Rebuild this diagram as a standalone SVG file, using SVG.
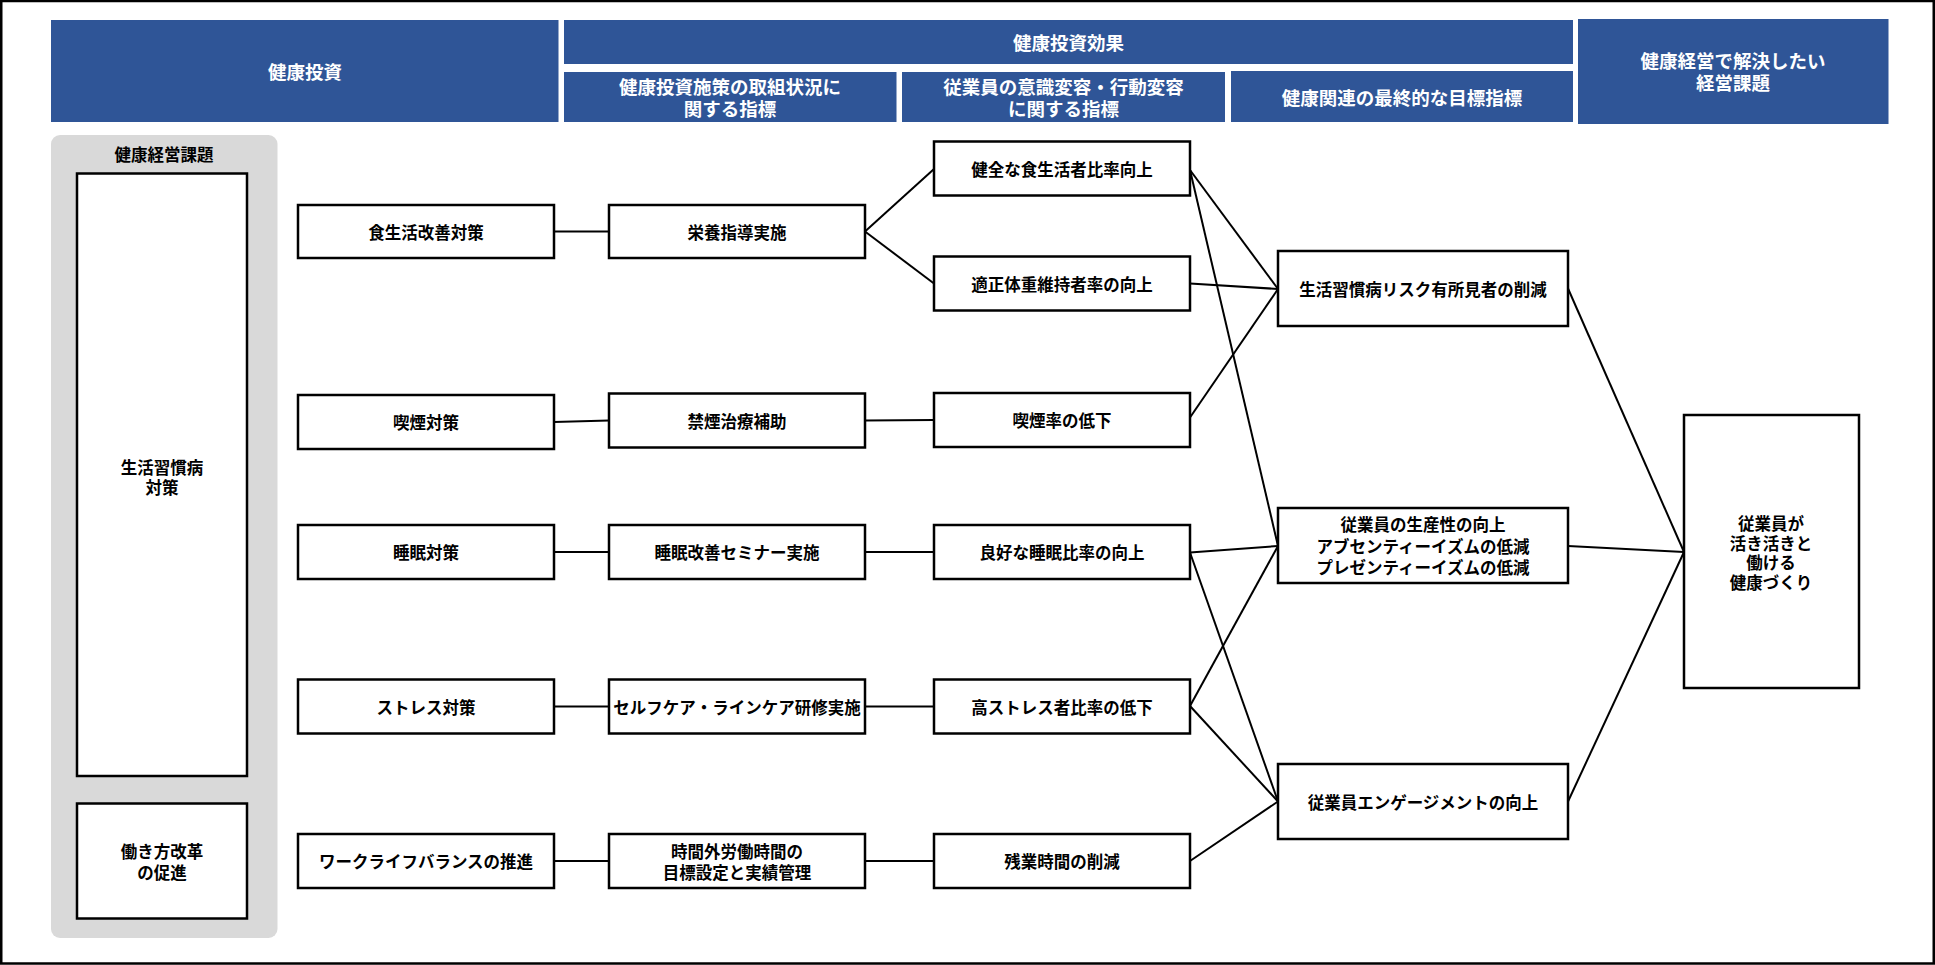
<svg xmlns="http://www.w3.org/2000/svg" width="1935" height="965" viewBox="0 0 1935 965">
<style>
text{font-family:"Noto Sans CJK JP","Noto Sans",sans-serif;font-weight:bold;text-anchor:middle;dominant-baseline:central}
.hd{fill:#2F5597}
.ht{fill:#FFFFFF;font-size:18.5px}
.bx{fill:#FFFFFF;stroke:#000000;stroke-width:2.5}
.nt{fill:#000000;font-size:16.5px}
.cn line{stroke:#000000;stroke-width:2}
</style>
<rect x="1.25" y="1" width="1932.5" height="962.5" fill="#FFFFFF" stroke="#000000" stroke-width="2.5"/>

<g id="hdr-kenko-toshi">
<rect class="hd" x="51" y="20" width="507.5" height="102"/>
<text class="ht" x="305" y="71">健康投資</text>
</g>
<g id="hdr-toshi-koka">
<rect class="hd" x="564" y="20" width="1009" height="44"/>
<text class="ht" x="1068.5" y="42">健康投資効果</text>
</g>
<g id="hdr-sub1">
<rect class="hd" x="564" y="72" width="332.5" height="50"/>
<text class="ht" x="730" y="86">健康投資施策の取組状況に</text>
<text class="ht" x="730" y="108">関する指標</text>
</g>
<g id="hdr-sub2">
<rect class="hd" x="902" y="72" width="323" height="50"/>
<text class="ht" x="1063.5" y="86">従業員の意識変容・行動変容</text>
<text class="ht" x="1063.5" y="108">に関する指標</text>
</g>
<g id="hdr-sub3">
<rect class="hd" x="1231" y="71" width="342" height="51"/>
<text class="ht" x="1402" y="97">健康関連の最終的な目標指標</text>
</g>
<g id="hdr-keiei">
<rect class="hd" x="1578" y="19" width="310.5" height="105"/>
<text class="ht" x="1733" y="60">健康経営で解決したい</text>
<text class="ht" x="1733" y="82">経営課題</text>
</g>

<g id="panel-kadai">
<rect x="51" y="135" width="226.5" height="803" rx="9" ry="9" fill="#D9D9D9"/>
<text class="nt" x="164" y="154">健康経営課題</text>
</g>
<g id="kadai-seikatsu">
<rect class="bx" x="77" y="173.5" width="170" height="602.5"/>
<text class="nt" x="162" y="467">生活習慣病</text>
<text class="nt" x="162" y="487">対策</text>
</g>
<g id="kadai-hatarakikata">
<rect class="bx" x="77" y="803.5" width="170" height="115"/>
<text class="nt" x="162" y="851">働き方改革</text>
<text class="nt" x="162" y="871.5">の促進</text>
</g>

<g id="connectors" class="cn">
<line x1="554" y1="231.5" x2="609" y2="231.5"/>
<line x1="865" y1="231.5" x2="934" y2="169"/>
<line x1="865" y1="231.5" x2="934" y2="283.5"/>
<line x1="554" y1="422" x2="609" y2="420.5"/>
<line x1="865" y1="420.5" x2="934" y2="420"/>
<line x1="554" y1="552" x2="609" y2="552"/>
<line x1="865" y1="552" x2="934" y2="552"/>
<line x1="554" y1="706.5" x2="609" y2="706.5"/>
<line x1="865" y1="706.5" x2="934" y2="706.5"/>
<line x1="554" y1="861" x2="609" y2="861"/>
<line x1="865" y1="861" x2="934" y2="861"/>
<line x1="1190" y1="170" x2="1278" y2="289"/>
<line x1="1190" y1="170" x2="1278" y2="546"/>
<line x1="1190" y1="283.5" x2="1278" y2="289"/>
<line x1="1190" y1="417.5" x2="1278" y2="289"/>
<line x1="1190" y1="552.5" x2="1278" y2="546"/>
<line x1="1190" y1="552.5" x2="1278" y2="801.5"/>
<line x1="1190" y1="706" x2="1278" y2="546"/>
<line x1="1190" y1="706" x2="1278" y2="801.5"/>
<line x1="1190" y1="861" x2="1278" y2="801.5"/>
<line x1="1568" y1="288.5" x2="1684" y2="552"/>
<line x1="1568" y1="546" x2="1684" y2="552"/>
<line x1="1568" y1="801.5" x2="1684" y2="552"/>
</g>

<g id="n-shokuseikatsu">
<rect class="bx" x="298" y="205" width="256" height="53"/>
<text class="nt" x="426" y="231.5">食生活改善対策</text>
</g>
<g id="n-kitsuen">
<rect class="bx" x="298" y="395" width="256" height="54"/>
<text class="nt" x="426" y="422">喫煙対策</text>
</g>
<g id="n-suimin">
<rect class="bx" x="298" y="525" width="256" height="54"/>
<text class="nt" x="426" y="552">睡眠対策</text>
</g>
<g id="n-stress">
<rect class="bx" x="298" y="679.5" width="256" height="54"/>
<text class="nt" x="426" y="706.5">ストレス対策</text>
</g>
<g id="n-wlb">
<rect class="bx" x="298" y="834" width="256" height="54"/>
<text class="nt" x="426" y="861">ワークライフバランスの推進</text>
</g>

<g id="n-eiyo">
<rect class="bx" x="609" y="205" width="256" height="53"/>
<text class="nt" x="737" y="231.5">栄養指導実施</text>
</g>
<g id="n-kinen">
<rect class="bx" x="609" y="393.5" width="256" height="54"/>
<text class="nt" x="737" y="420.5">禁煙治療補助</text>
</g>
<g id="n-seminar">
<rect class="bx" x="609" y="525" width="256" height="54"/>
<text class="nt" x="737" y="552">睡眠改善セミナー実施</text>
</g>
<g id="n-selfcare">
<rect class="bx" x="609" y="679.5" width="256" height="54"/>
<text class="nt" x="737" y="706.5">セルフケア・ラインケア研修実施</text>
</g>
<g id="n-jikangai">
<rect class="bx" x="609" y="834" width="256" height="54"/>
<text class="nt" x="737" y="850.5">時間外労働時間の</text>
<text class="nt" x="737" y="871.5">目標設定と実績管理</text>
</g>

<g id="n-kenzen">
<rect class="bx" x="934" y="141.5" width="256" height="54"/>
<text class="nt" x="1062" y="168.5">健全な食生活者比率向上</text>
</g>
<g id="n-tekisei">
<rect class="bx" x="934" y="256.5" width="256" height="54"/>
<text class="nt" x="1062" y="283.5">適正体重維持者率の向上</text>
</g>
<g id="n-kitsuenritsu">
<rect class="bx" x="934" y="393" width="256" height="54"/>
<text class="nt" x="1062" y="420">喫煙率の低下</text>
</g>
<g id="n-ryoko">
<rect class="bx" x="934" y="525" width="256" height="54"/>
<text class="nt" x="1062" y="552">良好な睡眠比率の向上</text>
</g>
<g id="n-kostress">
<rect class="bx" x="934" y="679.5" width="256" height="54"/>
<text class="nt" x="1062" y="706.5">高ストレス者比率の低下</text>
</g>
<g id="n-zangyo">
<rect class="bx" x="934" y="834" width="256" height="54"/>
<text class="nt" x="1062" y="861">残業時間の削減</text>
</g>

<g id="n-risk">
<rect class="bx" x="1278" y="251" width="290" height="75"/>
<text class="nt" x="1423" y="288.5">生活習慣病リスク有所見者の削減</text>
</g>
<g id="n-seisansei">
<rect class="bx" x="1278" y="508" width="290" height="75"/>
<text class="nt" x="1423" y="524">従業員の生産性の向上</text>
<text class="nt" x="1423" y="545.5">アブセンティーイズムの低減</text>
<text class="nt" x="1423" y="567">プレゼンティーイズムの低減</text>
</g>
<g id="n-engagement">
<rect class="bx" x="1278" y="764" width="290" height="75"/>
<text class="nt" x="1423" y="801.5">従業員エンゲージメントの向上</text>
</g>

<g id="n-goal">
<rect class="bx" x="1684" y="415" width="175" height="273"/>
<text class="nt" x="1771" y="523">従業員が</text>
<text class="nt" x="1771" y="542.5">活き活きと</text>
<text class="nt" x="1771" y="562">働ける</text>
<text class="nt" x="1771" y="581.5">健康づくり</text>
</g>
</svg>
